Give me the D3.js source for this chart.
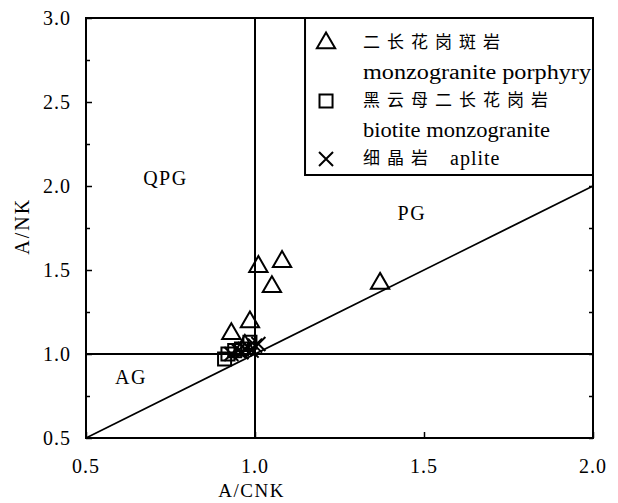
<!DOCTYPE html>
<html>
<head>
<meta charset="utf-8">
<script src="https://cdn.jsdelivr.net/npm/d3@7"></script>
<style>
  body { margin: 0; background: #fff; }
  svg { display: block; }
</style>
</head>
<body>
<div id="chart"></div>
<script>
// A/CNK vs A/NK
const porphyry = [
  [1.01, 1.52], [1.08, 1.55], [1.05, 1.40], [1.37, 1.42],
  [0.985, 1.19], [0.93, 1.12], [0.97, 1.05]
];
const biotite = [
  [0.91, 0.97], [0.92, 1.00], [0.94, 1.02], [0.96, 1.03], [0.985, 1.07]
];
const aplite = [
  [0.93, 1.00], [0.95, 1.02], [0.96, 1.01], [0.97, 1.03], [0.98, 1.04],
  [0.99, 1.02], [1.00, 1.05], [1.01, 1.06]
];
const xTicks = [0.5, 1.0, 1.5, 2.0];
const yTicks = [0.5, 1.0, 1.5, 2.0, 2.5, 3.0];
const yMinor = [0.75, 1.25, 1.75, 2.25, 2.75];
const regionLabels = [
  { name: "QPG", x: 0.735, y: 2.05 },
  { name: "PG", x: 1.464, y: 1.84 },
  { name: "AG", x: 0.633, y: 0.863 }
];
const legendItems = [
  { shape: "tri", zh: "二长花岗斑岩", en: "monzogranite porphyry" },
  { shape: "sq", zh: "黑云母二长花岗岩", en: "biotite monzogranite" },
  { shape: "x", zh: "细晶岩", en: "aplite" }
];

const SERIF = "'Liberation Serif', 'Times New Roman', Times, serif";
const CJK = "'Noto Sans CJK SC', sans-serif";

const W = 618, H = 503;
const margin = { top: 18, right: 25, bottom: 65, left: 86 };
const width = W - margin.left - margin.right;
const height = H - margin.top - margin.bottom;

const svg = d3.select("#chart").append("svg").attr("width", W).attr("height", H)
  .style("font-family", SERIF);
const g = svg.append("g").attr("transform", `translate(${margin.left},${margin.top})`);

const x = d3.scaleLinear().domain([0.5, 2.0]).range([0, width]);
const y = d3.scaleLinear().domain([0.5, 3.0]).range([height, 0]);

// frame
g.append("rect").attr("width", width).attr("height", height)
  .attr("fill", "none").attr("stroke", "#000").attr("stroke-width", 2);

// inward ticks
g.append("g").call(d3.axisLeft(y).tickValues(yTicks).tickSize(-6).tickFormat(""))
  .call(a => a.select(".domain").remove());
g.append("g").call(d3.axisLeft(y).tickValues(yMinor).tickSize(-4).tickFormat(""))
  .call(a => a.select(".domain").remove());
g.append("g").attr("transform", `translate(${width},0)`)
  .call(d3.axisRight(y).tickValues(yTicks.concat(yMinor)).tickSize(-4).tickFormat(""))
  .call(a => a.select(".domain").remove());
g.append("g").attr("transform", `translate(0,${height})`)
  .call(d3.axisBottom(x).tickValues(xTicks).tickSize(-6).tickFormat(""))
  .call(a => a.select(".domain").remove());
g.selectAll(".tick line").attr("stroke", "#000").attr("stroke-width", 1.5);

// tick labels
g.selectAll(".ylab").data(yTicks).join("text")
  .style("font-family", SERIF)
  .attr("x", -15).attr("y", d => y(d)).attr("dy", "0.35em")
  .attr("text-anchor", "end").attr("font-size", 20).attr("letter-spacing", 1)
  .text(d => d.toFixed(1));
g.selectAll(".xlab").data(xTicks).join("text")
  .style("font-family", SERIF)
  .attr("x", d => x(d)).attr("y", height + 35)
  .attr("text-anchor", "middle").attr("font-size", 20).attr("letter-spacing", 1)
  .text(d => d.toFixed(1));

g.append("text").style("font-family", SERIF)
  .attr("x", x(0.99)).attr("y", height + 59)
  .attr("text-anchor", "middle").attr("font-size", 19).attr("letter-spacing", 1.5).text("A/CNK");
g.append("text").style("font-family", SERIF)
  .attr("transform", `translate(${-57},${y(1.76)}) rotate(-90)`)
  .attr("text-anchor", "middle").attr("font-size", 20).attr("letter-spacing", 2).text("A/NK");

// boundary lines
g.append("line").attr("x1", x(1)).attr("x2", x(1)).attr("y1", y(3)).attr("y2", y(0.5))
  .attr("stroke", "#000").attr("stroke-width", 2);
g.append("line").attr("x1", x(0.5)).attr("x2", x(2)).attr("y1", y(1)).attr("y2", y(1))
  .attr("stroke", "#000").attr("stroke-width", 2);
g.append("line").attr("x1", x(0.5)).attr("x2", x(2)).attr("y1", y(0.5)).attr("y2", y(2))
  .attr("stroke", "#000").attr("stroke-width", 1.6);

g.selectAll(".region").data(regionLabels).join("text")
  .style("font-family", SERIF)
  .attr("x", d => x(d.x)).attr("y", d => y(d.y)).attr("dy", "0.35em")
  .attr("text-anchor", "middle").attr("font-size", 20).attr("letter-spacing", 1.5).text(d => d.name);

// markers
const triPath = d3.symbol().type(d3.symbolTriangle).size(145)();
const sqPath = d3.symbol().type(d3.symbolSquare).size(170)();
const xPath = "M-7,-7L7,7M-7,7L7,-7";
const mk = { tri: triPath, sq: sqPath, x: xPath };

function drawPoints(data, shape) {
  g.selectAll(null).data(data).join("path")
    .attr("transform", d => `translate(${x(d[0])},${y(d[1])})`)
    .attr("d", mk[shape])
    .attr("fill", "none").attr("stroke", "#000").attr("stroke-width", 2);
}
drawPoints(porphyry, "tri");
drawPoints(biotite, "sq");
drawPoints(aplite, "x");

// legend
const lgX = x(1.148);
const lg = g.append("g").attr("transform", `translate(${lgX},0)`);
const lgW = width - lgX;
lg.append("rect").attr("width", lgW).attr("height", 157)
  .attr("fill", "#fff").attr("stroke", "#000").attr("stroke-width", 2);
legendItems.forEach((d, i) => {
  const row = lg.append("g").attr("transform", `translate(0,${24 + i * 58})`);
  row.append("path").attr("transform", "translate(21,1)").attr("d", mk[d.shape])
    .attr("fill", "none").attr("stroke", "#000").attr("stroke-width", 2);
  row.append("text").style("font-family", CJK).attr("x", 58).attr("y", 0).attr("dy", "0.35em")
    .attr("font-size", 17).attr("letter-spacing", 7).text(d.zh);
  if (i < 2) {
    row.append("text").style("font-family", SERIF).attr("x", 58).attr("y", 30).attr("dy", "0.35em")
      .attr("font-size", 20).attr("textLength", i === 0 ? 228 : 187)
      .attr("lengthAdjust", "spacingAndGlyphs").text(d.en);
  } else {
    row.append("text").style("font-family", SERIF).attr("x", 145).attr("y", 0).attr("dy", "0.35em")
      .attr("font-size", 20).attr("letter-spacing", 1).text(d.en);
  }
});
</script>
</body>
</html>
